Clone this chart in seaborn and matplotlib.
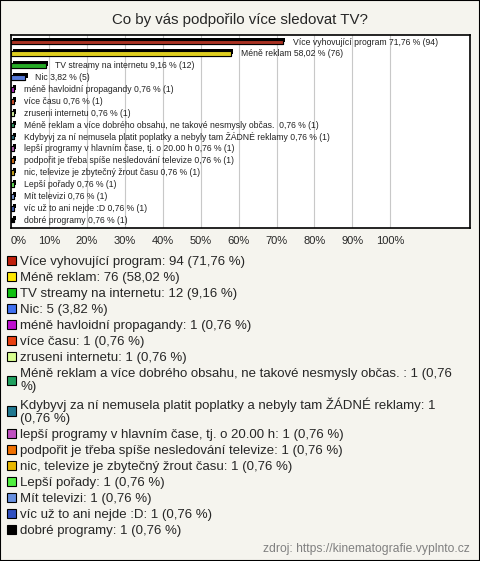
import textwrap
import matplotlib
matplotlib.use('Agg')
import matplotlib.pyplot as plt
import matplotlib.patheffects as pe
from matplotlib.patches import Patch
import seaborn as sns

# Survey answers and counts
answers = [
    'Více vyhovující program',
    'Méně reklam',
    'TV streamy na internetu',
    'Nic',
    'méně havloidní propagandy',
    'více času',
    'zruseni internetu',
    'Méně reklam a více dobrého obsahu, ne takové nesmysly občas. ',
    'Kdybyvj za ní nemusela platit poplatky a nebyly tam ŽÁDNÉ reklamy',
    'lepší programy v hlavním čase, tj. o 20.00 h',
    'podpořit je třeba spíše nesledování televize',
    'nic, televize je zbytečný žrout času',
    'Lepší pořady',
    'Mít televizi',
    'víc už to ani nejde :D',
    'dobré programy',
]
counts = [94, 76, 12, 5, 1, 1, 1, 1, 1, 1, 1, 1, 1, 1, 1, 1]
percents = [71.76, 58.02, 9.16, 3.82, 0.76, 0.76, 0.76, 0.76, 0.76, 0.76, 0.76, 0.76, 0.76, 0.76, 0.76, 0.76]
colors = ['#c0200c', '#ffe800', '#10c010', '#4070f0', '#c010d0', '#e84010', '#d8ff90', '#20a060',
          '#207890', '#c050c0', '#f07000', '#e8b800', '#50f040', '#6890e0', '#3050c0', '#000000']
x_ticks = [0, 10, 20, 30, 40, 50, 60, 70, 80, 90, 100]

def fmt(v):
    return f'{v:.2f}'.replace('.', ',')

bar_labels = [f'{a} {fmt(p)} % ({c})' for a, c, p in zip(answers, counts, percents)]
legend_labels = [textwrap.fill(f'{a}: {c} ({fmt(p)} %)', width=70) for a, c, p in zip(answers, counts, percents)]

bg = '#f5f4ee'
sns.set_style('white')
plt.rcParams['font.family'] = ['Liberation Sans', 'DejaVu Sans']

fig = plt.figure(figsize=(4.8, 5.61), dpi=100, facecolor=bg)
fig.patches.append(plt.Rectangle((0, 0), 1, 1, transform=fig.transFigure, fill=False,
                                 edgecolor='black', linewidth=1.5))
ax = fig.add_axes([11 / 480, 1 - 228 / 561, 459 / 480, 193 / 561])
ax.set_facecolor('white')

sns.barplot(x=percents, y=answers, hue=answers, palette=colors, legend=False, orient='h',
            width=0.4, edgecolor='black', linewidth=0.8, ax=ax)

for p in ax.patches:
    p.set_path_effects([pe.withSimplePatchShadow(offset=(1.5, 1.5), shadow_rgbFace='black', alpha=1),
                        pe.Normal()])

for cont, lab in zip(ax.containers, bar_labels):
    ax.bar_label(cont, labels=[lab], padding=7, fontsize=6.2, color='#222222')

ax.set_xlim(0, 121)
ax.set_ylim(15.67, -0.59)
ax.set_xticks(x_ticks)
ax.set_xticklabels([f'{t}%' for t in x_ticks], fontsize=8)
ax.get_xticklabels()[0].set_horizontalalignment('left')
ax.set_yticks([])
ax.set_ylabel('')
ax.tick_params(axis='x', length=0, pad=6)
ax.grid(axis='x', color='#c8c8c8', linewidth=0.8)
ax.set_axisbelow(True)
for s in ax.spines.values():
    s.set_visible(True)
    s.set_color('black')
    s.set_linewidth(1.2)

fig.text(0.5, 1 - 20 / 561, 'Co by vás podpořilo více sledovat TV?', ha='center', va='center', fontsize=10.8)

handles = [Patch(facecolor=c, edgecolor='black', linewidth=0.8) for c in colors]
fig.legend(handles, legend_labels, loc='upper left', bbox_to_anchor=(7 / 480, 1 - 256 / 561),
           frameon=False, fontsize=9.5, handlelength=0.7, handleheight=0.7, handletextpad=0.3,
           labelspacing=0.28, borderaxespad=0, borderpad=0)

fig.text(470 / 480, 1 - 549 / 561, 'zdroj: https://kinematografie.vyplnto.cz', ha='right', va='center',
         fontsize=8.7, color='#808080')

plt.savefig('out.png', dpi=100, facecolor=bg)
